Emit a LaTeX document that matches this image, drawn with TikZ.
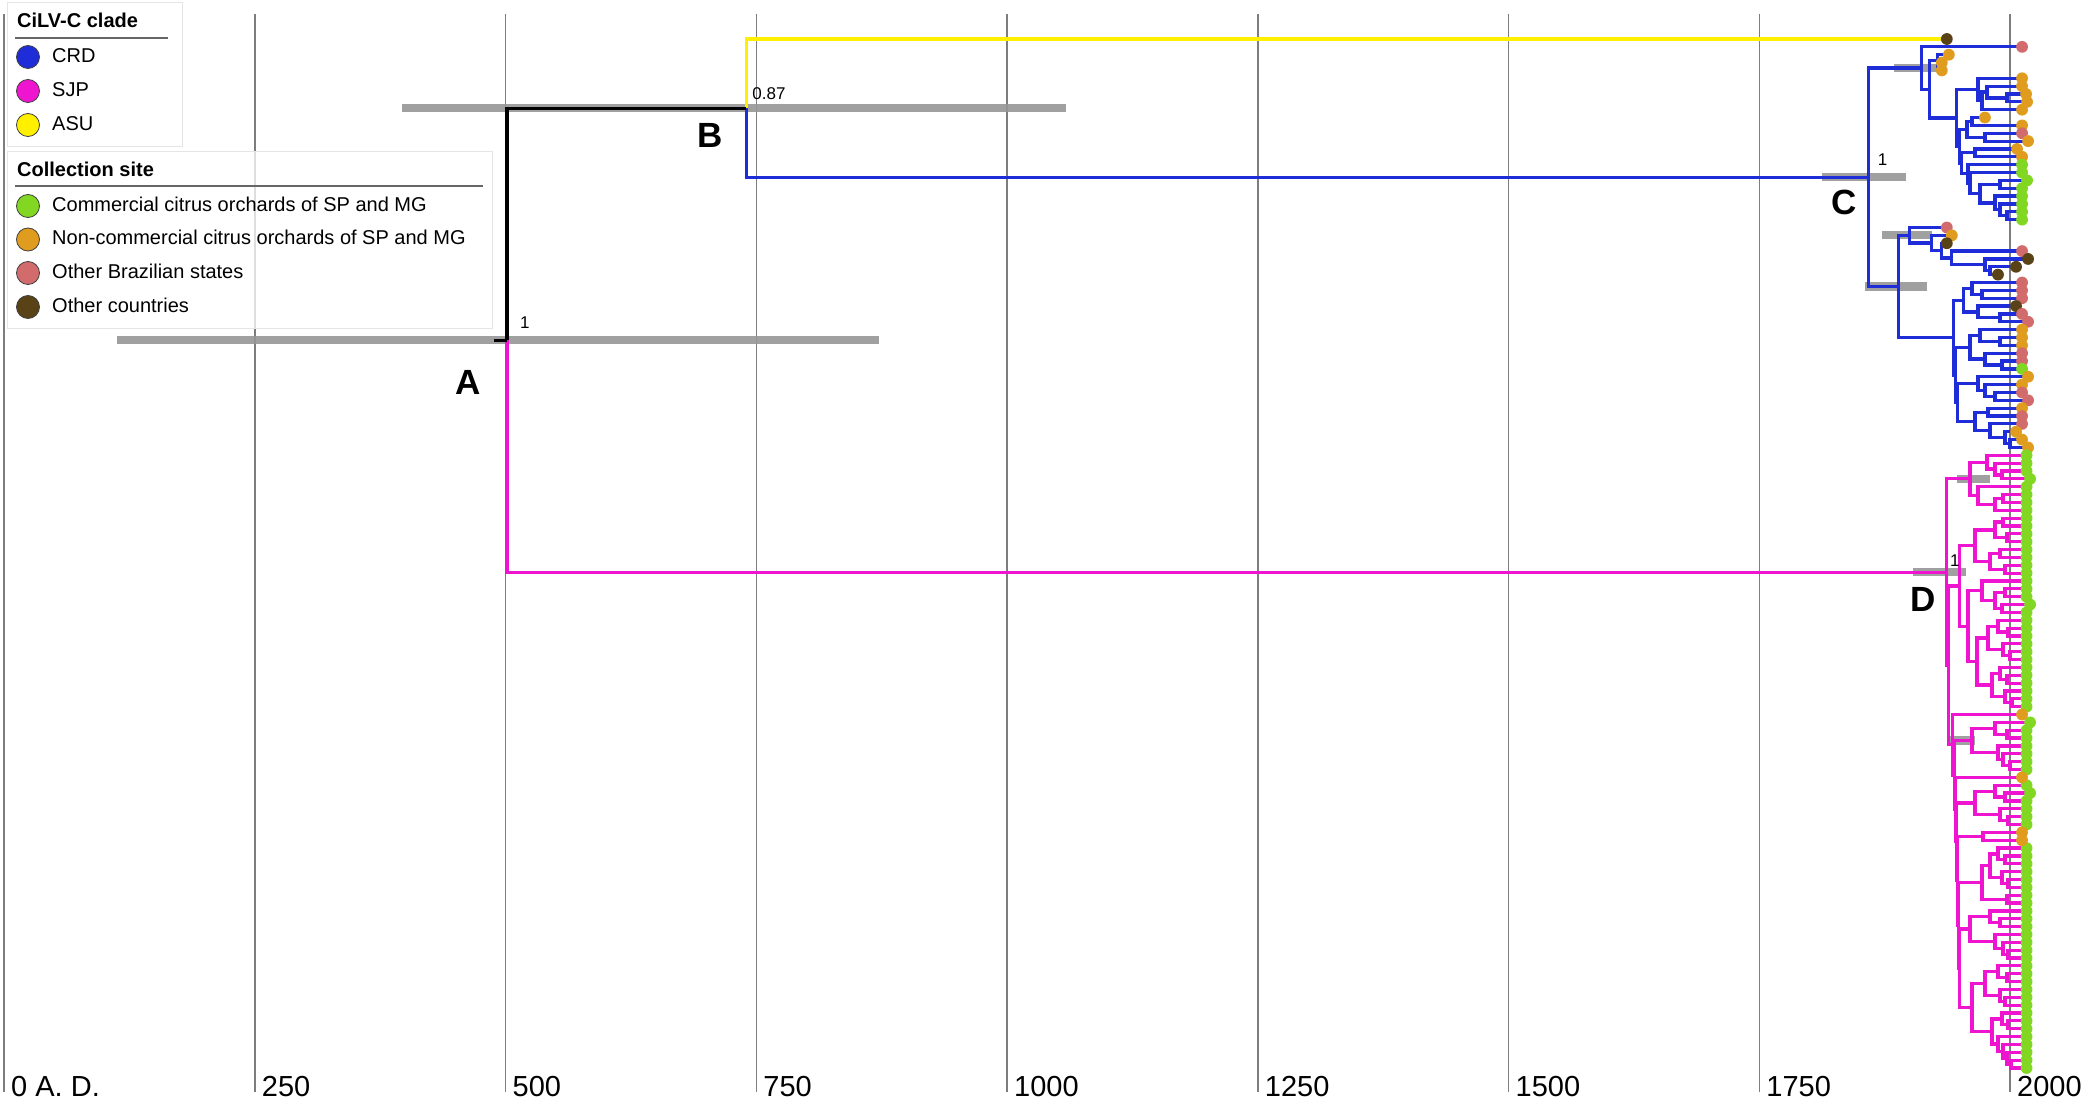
\documentclass[tikz,border=0pt]{standalone}
\usepackage{fontspec}
\setmainfont{Liberation Sans}
\usetikzlibrary{calc}
\definecolor{crd}{RGB}{30,45,215}
\definecolor{sjp}{RGB}{238,20,208}
\definecolor{asu}{RGB}{255,240,0}
\definecolor{comm}{RGB}{130,215,35}
\definecolor{noncomm}{RGB}{224,156,30}
\definecolor{obr}{RGB}{210,108,108}
\definecolor{oco}{RGB}{88,66,22}
\definecolor{gridc}{RGB}{125,125,125}
\definecolor{barc}{RGB}{150,150,150}
\pgfdeclarelayer{back}
\pgfdeclarelayer{bars}
\pgfdeclarelayer{fg}
\pgfsetlayers{back,bars,main,fg}
\newcommand\tp[3]{\coordinate (t#1) at ({4+1.003*#2},{39+7.855*#1});%
 \begin{pgfonlayer}{fg}\fill[#3] (t#1) circle (5.9pt);\end{pgfonlayer}}
\newcommand\ndpos[4]{\path ($(#3)!0.5!(#4)$) coordinate (#1mid) ({4+1.003*#2},0) coordinate (#1xx);%
 \coordinate (#1) at (#1xx |- #1mid);}
\newcommand\nd[4]{\ndpos{#1}{#2}{#3}{#4}\draw[br] (#3) -| (#1) |- (#4);}
\newcommand\nbar[3]{\begin{pgfonlayer}{bars}\fill[barc,opacity=0.9] let \p1=(#1) in (#2pt,\y1-4.2pt) rectangle (#3pt,\y1+4.2pt);\end{pgfonlayer}}
\tikzset{
 gridl/.style={draw=gridc, line width=1.5pt},
 axl/.style={anchor=base west, inner sep=0pt, font=\fontsize{29}{34}\selectfont},
 lab/.style={inner sep=0pt, font=\fontsize{35}{40}\selectfont\bfseries},
 sup/.style={anchor=base west, inner sep=0pt, font=\fontsize{17}{20}\selectfont},
 lgt/.style={anchor=base west, inner sep=0pt, font=\fontsize{20}{24}\selectfont},
 lgh/.style={anchor=base west, inner sep=0pt, font=\fontsize{20}{24}\selectfont\bfseries},
 lgc/.style={draw=black!75, line width=0.8pt},
 lgbox/.style={draw=black!10, line width=1pt, fill=white, fill opacity=0.75},
 ul/.style={draw=black!60, line width=1.3pt},
 lw/.style={line width=3.2pt},
}
\begin{document}
\begin{tikzpicture}[x=1pt,y=-1pt]
\useasboundingbox (0,0) rectangle (2086,1102);
\begin{pgfonlayer}{back}
\fill[white] (0,0) rectangle (2086,1102);
\foreach \yr/\lab in {0/0 A. D.,250/250,500/500,750/750,1000/1000,1250/1250,1500/1500,1750/1750,2000/2000}{
  \draw[gridl] ({4+1.003*\yr},14) -- ({4+1.003*\yr},1092);
  \node[axl] (ax\yr) at ({4+1.003*\yr+7},1096) {\lab};
}
\end{pgfonlayer}
% ---------- tips ----------
\tp{0}{1937}{oco}
\tp{1}{2012}{obr}\tp{2}{1939}{noncomm}\tp{3}{1932}{noncomm}\tp{4}{1932}{noncomm}
\tp{5}{2012}{noncomm}\tp{6}{2012}{noncomm}\tp{7}{2016}{noncomm}\tp{8}{2017}{noncomm}
\tp{9}{2012}{noncomm}\tp{10}{1975}{noncomm}\tp{11}{2012}{noncomm}\tp{12}{2012}{obr}
\tp{13}{2018}{noncomm}\tp{14}{2007}{noncomm}\tp{15}{2012}{noncomm}
\tp{16}{2012}{comm}\tp{17}{2012}{comm}\tp{18}{2017}{comm}
\foreach \i in {19,...,23}{\tp{\i}{2012}{comm}}
\tp{24}{1937}{obr}\tp{25}{1942}{noncomm}\tp{26}{1937}{oco}\tp{27}{2012}{obr}
\tp{28}{2018}{oco}\tp{29}{2006}{oco}\tp{30}{1988}{oco}
\tp{31}{2012}{obr}\tp{32}{2012}{obr}\tp{33}{2012}{obr}\tp{34}{2006}{oco}
\tp{35}{2012}{obr}\tp{36}{2018}{obr}
\tp{37}{2012}{noncomm}\tp{38}{2012}{noncomm}\tp{39}{2012}{noncomm}
\tp{40}{2012}{obr}\tp{41}{2012}{obr}\tp{42}{2012}{comm}\tp{43}{2018}{noncomm}
\tp{44}{2012}{noncomm}\tp{45}{2012}{obr}\tp{46}{2018}{obr}\tp{47}{2012}{noncomm}
\tp{48}{2012}{obr}\tp{49}{2012}{obr}\tp{50}{2006}{noncomm}\tp{51}{2012}{noncomm}
\tp{52}{2018}{noncomm}
\foreach \i in {53,54,55,57,58,...,71,73,74,...,85,88,89,...,93,95,97,98,99,100,103,104,...,131}{\tp{\i}{2016.5}{comm}}
\foreach \i in {56,72,87,96}{\tp{\i}{2020}{comm}}
\foreach \i in {86,94,101,102}{\tp{\i}{2012}{noncomm}}
% ---------- CRD clade ----------
\begin{scope}[br/.style={draw=crd, lw}]
\nd{OO}{1930}{t3}{t4}\nd{O}{1928}{t2}{OO}
\nd{Sac}{1997}{t7}{t8}\nd{Sab}{1977}{t6}{Sac}\nd{Saa}{1972}{Sab}{t9}\nd{Sa}{1968}{t5}{Saa}
\nd{Sba}{1962}{t10}{t11}\nd{Sbc}{1975}{t12}{t13}\nd{Sb}{1957}{Sba}{Sbc}
\nd{Sbd}{1965}{t14}{t15}
\nd{Sca}{1990}{t18}{t19}\nd{Scd}{1997}{t22}{t23}\nd{Scc}{1990}{t21}{Scd}
\nd{Scb}{1985}{t20}{Scc}\nd{Sce}{1970}{Sca}{Scb}\nd{Scf}{1960}{t17}{Sce}\nd{Sc}{1958}{t16}{Scf}
\nd{Tc}{1952}{Sbd}{Sc}\nd{Tb}{1950}{Sb}{Tc}\nd{T}{1947}{Sa}{Tb}
\nd{W}{1920}{O}{T}\nd{U}{1912}{t1}{W}
\nd{Laf}{1980}{t29}{t30}\nd{Lae}{1975}{t28}{Laf}\nd{Lad}{1942}{t27}{Lae}
\nd{Lac}{1932}{t26}{Lad}\nd{Lab}{1922}{t25}{Lac}\nd{La}{1900}{t24}{Lab}
\nd{Lbaa}{1972}{t32}{t33}\nd{Lbab}{1962}{t31}{Lbaa}\nd{Lbad}{1990}{t35}{t36}
\nd{Lbac}{1968}{t34}{Lbad}\nd{Lba}{1954}{Lbab}{Lbac}
\nd{Lbba}{1990}{t38}{t39}\nd{Lbbb}{1970}{t37}{Lbba}\nd{Lbbc}{1992}{t41}{t42}
\nd{Lbbd}{1975}{t40}{Lbbc}\nd{Lbb}{1960}{Lbbb}{Lbbd}
\nd{Lbcc}{1985}{t45}{t46}\nd{Lbcb}{1975}{t44}{Lbcc}\nd{Lbca}{1968}{t43}{Lbcb}
\nd{Lbce}{1978}{t47}{t48}\nd{Lbch}{2000}{t51}{t52}\nd{Lbcg}{1995}{t50}{Lbch}
\nd{Lbcf}{1980}{t49}{Lbcg}\nd{Lbcd}{1965}{Lbce}{Lbcf}\nd{Lbc}{1948}{Lbca}{Lbcd}
\nd{Lbd}{1946}{Lbb}{Lbc}\nd{Lb}{1944}{Lba}{Lbd}
\nd{L}{1889}{La}{Lb}
\nd{C}{1859}{U}{L}
\end{scope}
% ---------- SJP clade ----------
\begin{scope}[br/.style={draw=sjp, lw}]
\nd{Dac}{1992}{t55}{t56}\nd{Dab}{1985}{t54}{Dac}\nd{Daa}{1977}{t53}{Dab}
\nd{Dag}{1993}{t58}{t59}\nd{Daf}{1985}{Dag}{t60}\nd{Dae}{1968}{t57}{Daf}
\nd{Da}{1960}{Daa}{Dae}
\nd{Paa}{1993}{t61}{t62}\nd{Pab}{1997}{t63}{t64}\nd{Pac}{1985}{Paa}{Pab}
\nd{Pad}{1990}{t65}{t66}\nd{Pae}{1995}{t67}{t68}\nd{Paf}{1980}{Pad}{Pae}\nd{Pa}{1965}{Pac}{Paf}
\nd{Pba}{1995}{t70}{t71}\nd{Pbb}{1992}{t72}{t73}\nd{Pbc}{1985}{Pba}{Pbb}\nd{Pb}{1972}{t69}{Pbc}
\nd{Pca}{1998}{t75}{t76}\nd{Pcb}{1988}{t74}{Pca}\nd{Pcc}{2000}{t78}{t79}\nd{Pcd}{1993}{t77}{Pcc}
\nd{Pce}{1978}{Pcb}{Pcd}\nd{Pcf}{1997}{t81}{t82}\nd{Pcg}{1990}{t80}{Pcf}\nd{Pch}{2002}{t84}{t85}
\nd{Pci}{1995}{t83}{Pch}\nd{Pcj}{1982}{Pcg}{Pci}\nd{Pc}{1967}{Pce}{Pcj}
\nd{Dce}{1958}{Pb}{Pc}\nd{Dc}{1950}{Pa}{Dce}
\nd{Pda}{1997}{t88}{t89}\nd{Pdb}{1985}{t87}{Pda}\nd{Pdc}{2000}{t92}{t93}\nd{Pdd}{1993}{t91}{Pdc}
\nd{Pde}{1988}{t90}{Pdd}\nd{Pd}{1962}{Pdb}{Pde}
\nd{Pea}{1995}{t96}{t97}\nd{Peb}{1985}{t95}{Pea}\nd{Pec}{1998}{t99}{t100}\nd{Ped}{1990}{t98}{Pec}
\nd{Pe}{1965}{Peb}{Ped}
\nd{Pf}{1973}{t101}{t102}
\nd{Pga}{1995}{t104}{t105}\nd{Pgb}{1988}{t103}{Pga}\nd{Pgc}{1998}{t107}{t108}\nd{Pgd}{1992}{t106}{Pgc}
\nd{Pge}{1980}{Pgb}{Pgd}\nd{Pgf}{1997}{t109}{t110}\nd{Pg}{1972}{Pge}{Pgf}
\nd{Pha}{1990}{t112}{t113}\nd{Phb}{1980}{t111}{Pha}\nd{Phc}{1998}{t116}{t117}\nd{Phd}{1993}{t115}{Phc}
\nd{Phe}{1985}{t114}{Phd}\nd{Ph}{1960}{Phb}{Phe}
\nd{Qa}{1997}{t119}{t120}\nd{Qb}{1988}{t118}{Qa}\nd{Qc}{1995}{t122}{t123}\nd{Qd}{1990}{t121}{Qc}
\nd{Qe}{1975}{Qb}{Qd}\nd{Qf}{1998}{t125}{t126}\nd{Qg}{1992}{t124}{Qf}\nd{Qh}{2001}{t130}{t131}
\nd{Qi}{1997}{t129}{Qh}\nd{Qj}{1993}{t128}{Qi}\nd{Qk}{1988}{t127}{Qj}\nd{Ql}{1982}{Qg}{Qk}
\nd{Pi}{1962}{Qe}{Ql}
\nd{Mf}{1950}{Ph}{Pi}\nd{Me}{1949}{Pg}{Mf}\nd{Md}{1948}{Pf}{Me}\nd{Mc}{1947}{Pe}{Md}
\nd{Mb}{1946}{t94}{Mc}\nd{Ma}{1945}{Pd}{Mb}\nd{Dd}{1943}{t86}{Ma}
\nd{Db}{1939}{Dc}{Dd}
\nd{D}{1937}{Da}{Db}
\end{scope}
% ---------- deep nodes ----------
\ndpos{B}{740}{t0}{C}
\ndpos{A}{501.5}{B}{D}
\draw[draw=asu, lw] (t0) -| (B);
\draw[draw=crd, lw] (B) |- (C);
\draw[draw=black, lw] (B) -| (A);
\draw[draw=sjp, lw] (A) |- (D);
\draw[draw=black, lw] (A) -- ++(-13,0);
% ---------- HPD bars ----------
\nbar{A}{117}{879}
\nbar{B}{402}{1066}
\nbar{C}{1822}{1906}
\nbar{U}{1894}{1940}
\nbar{La}{1882}{1932}
\nbar{L}{1865}{1927}
\nbar{D}{1913}{1966}
\nbar{Da}{1957}{1990}
\nbar{Pd}{1950}{1975}
% ---------- labels ----------
\node[sup] (pA) at ($(A)+(13,-12)$) {1};
\node[sup] (pB) at ($(B)+(6,-9)$) {0.87};
\node[sup] (pC) at ($(C)+(9,-12)$) {1};
\node[sup] (pD) at ($(D)+(3,-6)$) {1};
\node[lab] (lA) at ($(A)+(-39,42)$) {A};
\node[lab] (lB) at ($(B)+(-36,27)$) {B};
\node[lab] (lC) at ($(C)+(-24,25)$) {C};
\node[lab] (lD) at ($(D)+(-24,27)$) {D};
% ---------- legend ----------
\path[lgbox] (7,3) rectangle (182,147);
\node[lgh] (h1) at (17,28) {CiLV-C clade};
\draw[ul] (15,38) -- (168,38);
\foreach \yy/\cc/\tt in {57/crd/CRD,91/sjp/SJP,125/asu/ASU}{
  \filldraw[lgc, fill=\cc] (28,\yy) circle (11.5pt);
  \node[lgt] (lg\tt) at (52,\yy+5.6) {\tt};
}
\path[lgbox] (7,152) rectangle (492,328);
\node[lgh] (h2) at (17,177) {Collection site};
\draw[ul] (15,186) -- (483,186);
\filldraw[lgc, fill=comm] (28,206) circle (11.5pt);
\node[lgt] (lg1) at (52,211.5) {Commercial citrus orchards of SP and MG};
\filldraw[lgc, fill=noncomm] (28,239.5) circle (11.5pt);
\node[lgt] (lg2) at (52,245) {Non-commercial citrus orchards of SP and MG};
\filldraw[lgc, fill=obr] (28,273) circle (11.5pt);
\node[lgt] (lg3) at (52,278.5) {Other Brazilian states};
\filldraw[lgc, fill=oco] (28,307) circle (11.5pt);
\node[lgt] (lg4) at (52,312.5) {Other countries};
\end{tikzpicture}
\end{document}
